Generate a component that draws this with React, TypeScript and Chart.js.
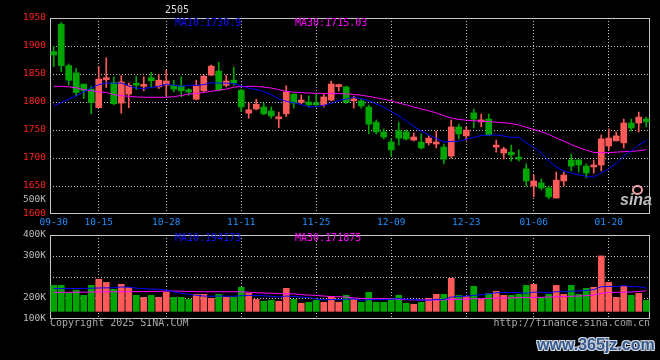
import React, { useEffect, useRef } from 'react';
import { Chart, registerables } from 'chart.js';

Chart.register(...registerables);

const CONTRACT = '2505';

const DATES = [
  '09-30', '10-08', '10-09', '10-10', '10-11', '10-14', '10-15', '10-16', '10-17', '10-18',
  '10-21', '10-22', '10-23', '10-24', '10-25', '10-28', '10-29', '10-30', '10-31', '11-01',
  '11-04', '11-05', '11-06', '11-07', '11-08', '11-11', '11-12', '11-13', '11-14', '11-15',
  '11-18', '11-19', '11-20', '11-21', '11-22', '11-25', '11-26', '11-27', '11-28', '11-29',
  '12-02', '12-03', '12-04', '12-05', '12-06', '12-09', '12-10', '12-11', '12-12', '12-13',
  '12-16', '12-17', '12-18', '12-19', '12-20', '12-23', '12-24', '12-25', '12-26', '12-27',
  '12-30', '12-31', '01-02', '01-03', '01-06', '01-07', '01-08', '01-09', '01-10', '01-13',
  '01-14', '01-15', '01-16', '01-17', '01-20', '01-21', '01-22', '01-23', '01-24', '01-27',
];

const DATE_TICKS = ['09-30', '10-15', '10-28', '11-11', '11-25', '12-09', '12-23', '01-06', '01-20'];
const GRID_DATES = ['10-15', '10-28', '11-11', '11-25', '12-09', '12-23', '01-06', '01-20'];

const OPEN = [
  1890, 1939, 1865, 1852, 1832, 1823, 1790, 1840, 1835, 1798,
  1814, 1831, 1828, 1843.5, 1827, 1830, 1830, 1829, 1822, 1805,
  1820, 1848, 1855, 1830, 1839, 1821, 1780, 1787.5, 1791, 1784,
  1770, 1779, 1814, 1799.5, 1800, 1798, 1795, 1803.5, 1827.5, 1827,
  1802, 1802, 1791, 1764, 1746.5, 1728.5, 1749, 1746.5, 1732, 1728.5,
  1727, 1725, 1719.5, 1703.5, 1755.5, 1739.5, 1780.5, 1764.5, 1769.5, 1719.5,
  1709, 1710.5, 1700, 1680.5, 1650, 1655.5, 1646.5, 1628.5, 1659, 1696.5,
  1696.5, 1685.5, 1684, 1687.5, 1721.5, 1730.5, 1727, 1762.5, 1762.5, 1769.5,
];
const HIGH = [
  1899, 1942, 1868, 1860, 1832, 1828, 1863, 1879, 1845, 1847,
  1834, 1846, 1845, 1853, 1849, 1857, 1839, 1845, 1824, 1839,
  1848, 1866, 1871, 1848, 1862, 1823, 1798, 1805, 1798, 1791,
  1782, 1829, 1815, 1812.5, 1811, 1814, 1814, 1837.5, 1832, 1828.5,
  1810.5, 1805.5, 1794.5, 1768, 1752, 1734, 1764, 1750, 1744.5, 1743,
  1739.5, 1748, 1725, 1768, 1760.5, 1755.5, 1787.5, 1778.5, 1778.5, 1732,
  1719.5, 1723, 1714.5, 1689.5, 1669.5, 1662.5, 1650, 1675, 1675, 1707,
  1697, 1689.5, 1696.5, 1741, 1752, 1746.5, 1769.5, 1769.5, 1782, 1773,
];
const LOW = [
  1863, 1854, 1830, 1811, 1806, 1779, 1790, 1826, 1795, 1780,
  1790, 1822, 1820, 1826, 1824, 1811, 1818, 1809, 1812, 1804,
  1818, 1847, 1820, 1827, 1830, 1783, 1771, 1786, 1777, 1771,
  1754, 1774, 1789, 1796, 1791, 1791, 1791, 1802, 1819.5, 1797.5,
  1789, 1789, 1743, 1743, 1734, 1703.5, 1723, 1732, 1730.5, 1716,
  1723, 1718, 1689.5, 1700, 1734, 1732, 1753.5, 1755.5, 1741, 1710.5,
  1698, 1694.5, 1694.5, 1650, 1630.5, 1643, 1627, 1628.5, 1650, 1677,
  1675, 1664.5, 1673, 1677, 1714.5, 1730.5, 1718, 1748, 1746.5, 1755.5,
];
const CLOSE = [
  1884, 1865, 1839, 1817, 1820, 1799, 1841, 1841.5, 1797, 1836,
  1830, 1830, 1829, 1838, 1839, 1837.5, 1823, 1820, 1818, 1830,
  1846, 1864, 1821, 1837.5, 1834, 1791, 1786, 1796, 1779, 1775,
  1773, 1818, 1798, 1803.5, 1795, 1795, 1809, 1832, 1830.5, 1799.5,
  1805.5, 1793, 1760.5, 1746.5, 1737.5, 1714.5, 1735.5, 1734, 1737.5, 1718,
  1735.5, 1728.5, 1698, 1755.5, 1743, 1750, 1769.5, 1768, 1741, 1723,
  1716, 1705.5, 1698, 1659, 1659, 1646.5, 1630.5, 1660.5, 1669.5, 1685.5,
  1687.5, 1673, 1687.5, 1734, 1735.5, 1739.5, 1762.5, 1753.5, 1773, 1764.5,
];

const MA10 = [
  1793.5, 1799, 1805, 1811, 1818, 1825, 1831, 1834, 1833.5, 1833.9,
  1828.5, 1825.0, 1824.1, 1826.1, 1828.0, 1831.9, 1830.1, 1828.0, 1830.1, 1829.5,
  1831.1, 1834.5, 1833.8, 1833.7, 1833.2, 1828.6, 1824.8, 1822.5, 1818.6, 1813.0,
  1805.7, 1801.1, 1798.7, 1795.3, 1791.4, 1791.7, 1794.0, 1797.6, 1802.8, 1805.2,
  1808.5, 1806.0, 1802.3, 1796.5, 1790.8, 1782.8, 1775.5, 1765.7, 1756.4, 1748.2,
  1741.3, 1734.8, 1728.6, 1729.5, 1730.0, 1733.6, 1737.0, 1740.4, 1740.7, 1741.3,
  1739.3, 1737.0, 1737.0, 1727.3, 1718.9, 1708.6, 1694.7, 1683.9, 1676.8, 1673.0,
  1670.2, 1667.0, 1665.9, 1673.4, 1681.1, 1690.4, 1703.6, 1712.9, 1723.2, 1730.9,
];
const MA30 = [
  1828, 1828, 1827, 1825.5, 1822, 1820, 1818, 1817, 1813, 1811.5,
  1810, 1809, 1808.5, 1808.4, 1808.4, 1808.4, 1809.5, 1811.5, 1814, 1815.5,
  1817, 1819, 1821, 1823, 1826.5, 1827.5, 1828, 1828, 1826.5, 1825,
  1822, 1819, 1817.5, 1817, 1816, 1815.5, 1815.5, 1815.3, 1815, 1814.5,
  1813.5, 1812, 1810, 1807.5, 1805, 1802, 1798, 1795, 1791, 1787.5,
  1784.5, 1780.5, 1775.5, 1771.5, 1769, 1767.5, 1766.5, 1766, 1765, 1764,
  1763, 1761.5, 1759, 1755, 1751, 1747, 1742, 1736, 1730, 1724,
  1719, 1714, 1710, 1709.5, 1709.5, 1710.5, 1711.3, 1711.8, 1713, 1715.03,
];

const VOLUME = [
  217000, 217000, 153000, 176000, 134000, 217000, 268000, 242000, 184000, 226000,
  201000, 134000, 117000, 134000, 117000, 159000, 117000, 117000, 100000, 142000,
  142000, 109000, 142000, 117000, 117000, 201000, 150000, 100000, 84000, 92000,
  84000, 192000, 100000, 67000, 75000, 92000, 75000, 125000, 75000, 134000,
  100000, 75000, 159000, 75000, 75000, 109000, 134000, 67000, 59000, 75000,
  109000, 142000, 142000, 276000, 134000, 125000, 209000, 100000, 150000, 167000,
  134000, 134000, 142000, 217000, 226000, 117000, 142000, 217000, 142000, 217000,
  142000, 192000, 201000, 463000, 242000, 117000, 209000, 134000, 150000, 92000,
];
const VOL_MA10 = [
  190000, 190000, 190000, 191000, 192000, 193000, 195000, 196000, 197000, 203400,
  201800, 193500, 189900, 185700, 184000, 178200, 163100, 150600, 142200, 133800,
  127900, 125400, 127900, 126200, 126200, 130400, 133700, 132000, 130400, 125400,
  119600, 127900, 123700, 118700, 114500, 103600, 96100, 98600, 97700, 101900,
  103500, 91800, 97700, 98500, 98500, 100200, 106100, 100300, 98700, 92800,
  93700, 100400, 98700, 118800, 124700, 126300, 133800, 137100, 146200, 155400,
  157900, 157100, 157100, 151200, 160400, 159600, 152900, 164600, 163800, 168800,
  169600, 175400, 181300, 205900, 207500, 207500, 214200, 205900, 206700, 194173,
];
const VOL_MA30 = [
  159000, 159000, 159000, 160000, 160000, 161000, 163000, 164000, 164000, 164000,
  164000, 165000, 165000, 166000, 167000, 169000, 170000, 168000, 166000, 165000,
  164000, 164000, 164000, 164000, 164000, 163000, 160000, 156000, 153000, 151000,
  149000, 148000, 146000, 140000, 136000, 133000, 128000, 124000, 122000, 120000,
  112000, 108000, 106000, 105000, 105000, 104000, 100000, 97000, 96000, 95000,
  95000, 95000, 96000, 99000, 100000, 102000, 105000, 106000, 107000, 110000,
  112000, 113000, 114000, 115000, 116000, 117000, 120000, 122000, 124000, 126000,
  128000, 131000, 136000, 150000, 157000, 159000, 160000, 162000, 166000, 171875,
];

const PRICE_TICKS = [1600, 1625, 1650, 1700, 1750, 1800, 1850, 1900, 1950];
const PRICE_TICK_LABELS = ['1600', '500K', '1650', '1700', '1750', '1800', '1850', '1900', '1950'];
const PRICE_MIN = 1600;
const PRICE_MAX = 1950;
const VOL_MIN = -64000;
const VOL_MAX = 638000;
const VOL_TICK_LABELS = ['100K', '200K', '', '300K', '400K'];

const FONT = '"DejaVu Sans Mono", "Liberation Mono", monospace';
const RED = '#FF5A5A';
const GREEN = '#00A600';
const GRID = '#C4C4C4';
const NONE = 'rgba(0,0,0,0)';

const framePlugin = {
  id: 'frame',
  beforeDatasetsDraw(chart: any) {
    const { ctx, chartArea: a } = chart;
    ctx.save();
    ctx.strokeStyle = '#C8C8C8';
    ctx.lineWidth = 1;
    ctx.setLineDash([]);
    const l = Math.round(a.left) + 0.5;
    const t = Math.round(a.top) + 0.5;
    const r = Math.round(a.right) - 0.5;
    const b = Math.round(a.bottom) - 0.5;
    ctx.strokeRect(l, t, r - l, b - t);
    ctx.restore();
  },
};

function xScale(showLabels: boolean, height: number) {
  return {
    type: 'category',
    offset: true,
    grid: {
      offset: false,
      drawTicks: false,
      lineWidth: 1,
      color: (c: any) => (GRID_DATES.includes(DATES[c.index]) ? GRID : NONE),
    },
    border: { display: false, dash: [1, 2] },
    ticks: {
      display: showLabels,
      autoSkip: false,
      maxRotation: 0,
      minRotation: 0,
      padding: 3,
      color: '#1E90FF',
      font: { family: FONT, size: 9.5 },
      callback: (_v: any, i: number) => (DATE_TICKS.includes(DATES[i]) ? DATES[i] : ''),
    },
    afterFit: (s: any) => {
      s.height = height;
    },
  };
}

export default function App() {
  const priceRef = useRef<HTMLCanvasElement>(null);
  const volRef = useRef<HTMLCanvasElement>(null);

  useEffect(() => {
    document.body.style.margin = '0';
    document.body.style.background = '#000';
    const colors = OPEN.map((o, i) => (CLOSE[i] >= o ? RED : GREEN));

    const price = new Chart(priceRef.current as HTMLCanvasElement, {
      type: 'bar',
      data: {
        labels: DATES,
        datasets: [
          {
            type: 'line',
            label: 'MA10',
            data: MA10,
            borderColor: '#0000FF',
            borderWidth: 1,
            pointRadius: 0,
            tension: 0,
            order: 0,
          },
          {
            type: 'line',
            label: 'MA30',
            data: MA30,
            borderColor: '#FF00FF',
            borderWidth: 1,
            pointRadius: 0,
            tension: 0,
            order: 0,
          },
          {
            type: 'bar',
            label: 'body',
            data: OPEN.map((o, i) => [o, CLOSE[i]]),
            backgroundColor: colors,
            borderWidth: 0,
            barThickness: 6,
            minBarLength: 2,
            grouped: false,
            order: 1,
          },
          {
            type: 'bar',
            label: 'wick',
            data: LOW.map((l, i) => [l, HIGH[i]]),
            backgroundColor: colors,
            borderWidth: 0,
            barThickness: 1,
            grouped: false,
            order: 2,
          },
        ],
      } as any,
      options: {
        responsive: false,
        animation: false,
        devicePixelRatio: 1,
        layout: { padding: { left: 0, right: 10, top: 18, bottom: 0 } },
        plugins: { legend: { display: false }, tooltip: { enabled: false }, title: { display: false } },
        scales: {
          x: xScale(true, 146),
          y: {
            min: PRICE_MIN,
            max: PRICE_MAX,
            afterBuildTicks: (s: any) => {
              s.ticks = PRICE_TICKS.map((v) => ({ value: v }));
            },
            grid: {
              drawTicks: false,
              color: (c: any) => (c.tick && c.tick.value > 1625 && c.tick.value < PRICE_MAX ? GRID : NONE),
            },
            border: { display: false, dash: [1, 2] },
            ticks: {
              autoSkip: false,
              padding: 4,
              font: { family: FONT, size: 9.5 },
              color: (c: any) => (PRICE_TICK_LABELS[c.index] === '500K' ? '#BDBDBD' : '#FF2020'),
              callback: (_v: any, i: number) => PRICE_TICK_LABELS[i],
            },
            afterFit: (s: any) => {
              s.width = 50;
            },
          },
        } as any,
      },
      plugins: [framePlugin],
    });

    const volume = new Chart(volRef.current as HTMLCanvasElement, {
      type: 'bar',
      data: {
        labels: DATES,
        datasets: [
          {
            type: 'line',
            label: 'MA10',
            data: VOL_MA10,
            borderColor: '#0000FF',
            borderWidth: 1,
            pointRadius: 0,
            tension: 0,
            order: 0,
          },
          {
            type: 'line',
            label: 'MA30',
            data: VOL_MA30,
            borderColor: '#FF00FF',
            borderWidth: 1,
            pointRadius: 0,
            tension: 0,
            order: 0,
          },
          {
            type: 'bar',
            label: 'volume',
            data: VOLUME,
            backgroundColor: colors,
            borderWidth: 0,
            barThickness: 6,
            grouped: false,
            order: 1,
          },
        ],
      } as any,
      options: {
        responsive: false,
        animation: false,
        devicePixelRatio: 1,
        layout: { padding: { left: 0, right: 10, top: 235, bottom: 0 } },
        plugins: { legend: { display: false }, tooltip: { enabled: false } },
        scales: {
          x: xScale(false, 41),
          y: {
            min: VOL_MIN,
            max: VOL_MAX,
            afterBuildTicks: (s: any) => {
              s.ticks = VOL_TICK_LABELS.map((_l, k) => ({
                value: VOL_MIN + (k * (VOL_MAX - VOL_MIN)) / (VOL_TICK_LABELS.length - 1),
              }));
            },
            grid: {
              drawTicks: false,
              color: (c: any) => (c.index > 0 && c.index < VOL_TICK_LABELS.length - 1 ? GRID : NONE),
            },
            border: { display: false, dash: [1, 2] },
            ticks: {
              autoSkip: false,
              padding: 4,
              font: { family: FONT, size: 9.5 },
              color: '#BDBDBD',
              callback: (_v: any, i: number) => VOL_TICK_LABELS[i],
            },
            afterFit: (s: any) => {
              s.width = 50;
            },
          },
        } as any,
      },
      plugins: [framePlugin],
    });

    return () => {
      price.destroy();
      volume.destroy();
    };
  }, []);

  const txt = (extra: any) => ({
    position: 'absolute' as const,
    fontFamily: FONT,
    fontSize: 10,
    lineHeight: '12px',
    whiteSpace: 'pre' as const,
    ...extra,
  });

  const last = (a: number[]) => a[a.length - 1];

  return (
    <div style={{ position: 'relative', width: 660, height: 360, background: '#000', overflow: 'hidden' }}>
      <canvas ref={priceRef} width={660} height={360} style={{ position: 'absolute', left: 0, top: 0 }} />
      <canvas ref={volRef} width={660} height={360} style={{ position: 'absolute', left: 0, top: 0 }} />
      <span style={txt({ left: 165, top: 4, color: '#D8D8D8' })}>{CONTRACT}</span>
      <span style={txt({ left: 175, top: 17, color: '#1010FF' })}>{`MA10:${last(MA10)}`}</span>
      <span style={txt({ left: 295, top: 17, color: '#FF00FF' })}>{`MA30:${last(MA30)}`}</span>
      <span style={txt({ left: 175, top: 232, color: '#1010FF' })}>{`MA10:${last(VOL_MA10)}`}</span>
      <span style={txt({ left: 295, top: 232, color: '#FF00FF' })}>{`MA30:${last(VOL_MA30)}`}</span>
      <span style={txt({ left: 50, top: 317, color: '#A8A8A8' })}>Copyright 2025 SINA.COM</span>
      <span style={txt({ right: 10, top: 317, color: '#A8A8A8' })}>http://finance.sina.com.cn</span>
      <div
        style={{
          position: 'absolute',
          left: 632,
          top: 185,
          width: 7,
          height: 6,
          border: '2px solid #F2A0A0',
          borderRadius: '50%',
        }}
      />
      <span
        style={{
          position: 'absolute',
          left: 620,
          top: 192,
          fontFamily: '"Liberation Sans", sans-serif',
          fontStyle: 'italic',
          fontWeight: 'bold',
          fontSize: 16,
          lineHeight: '16px',
          color: '#BFBFBF',
        }}
      >
        sina
      </span>
      <span
        style={{
          position: 'absolute',
          left: 537,
          top: 337,
          fontFamily: '"Liberation Sans", sans-serif',
          fontWeight: 'bold',
          fontSize: 16,
          lineHeight: '16px',
          color: '#3A5A8C',
          textShadow:
            '1px 1px 0 #D0D8E4, -1px -1px 0 #D0D8E4, 1px -1px 0 #D0D8E4, -1px 1px 0 #D0D8E4',
          whiteSpace: 'pre',
        }}
      >
        www.365jz.com
      </span>
    </div>
  );
}
